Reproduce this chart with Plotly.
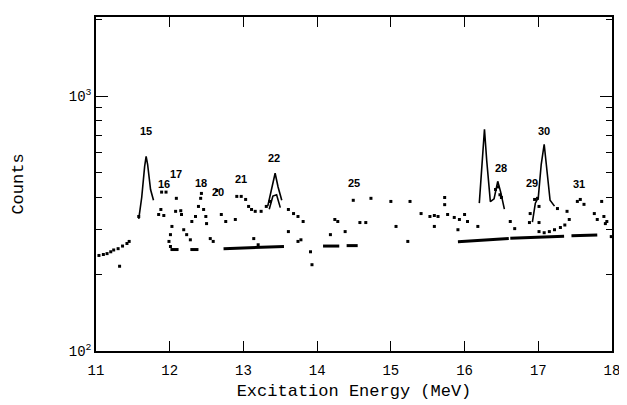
import plotly.graph_objects as go

# Fitted peak shapes (solid lines), segments split by None
fit_energy = [11.58, 11.62, 11.66, 11.68, 11.70, 11.74, 11.78, None,
              13.33, 13.38, 13.43, 13.47, 13.52, None,
              13.35, 13.40, 13.45, 13.50, None,
              16.20, 16.24, 16.27, 16.30, 16.35, 16.40, 16.45, 16.49, 16.54, None,
              16.92, 16.96, 17.00, 17.04, 17.08, 17.12, 17.16, 17.22]
fit_counts = [330, 400, 530, 580, 540, 430, 390, None,
              370, 430, 498, 440, 390, None,
              360, 405, 410, 365, None,
              380, 560, 741, 560, 385, 395, 463, 420, 360, None,
              320, 380, 400, 540, 647, 500, 390, 370]

# Background under the spectrum
bg_energy = [12.01, 12.12, None, 12.28, 12.39, None, 12.73, 13.55, None,
             14.08, 14.30, None, 14.40, 14.55, None,
             15.91, 16.60, None, 16.62, 17.35, None, 17.45, 17.80]
bg_counts = [250, 250, None, 250, 250, None, 252, 257, None,
             258, 258, None, 259, 259, None,
             268, 276, None, 277, 282, None, 283, 285]

# Measured points
pt_energy = [11.04, 11.10, 11.15, 11.20, 11.24, 11.30, 11.36, 11.42, 11.45, 11.32,
             11.58, 11.89, 11.95, 12.09, 11.85, 11.88, 11.92, 12.08, 12.15, 12.03,
             12.01, 11.99, 12.01, 12.16, 12.19, 12.23, 12.28, 12.30, 12.35, 12.39,
             12.42, 12.46, 12.49, 12.50, 12.55, 12.59, 12.64, 12.70, 12.76, 12.89,
             12.43, 12.91, 12.97, 13.03, 13.07, 13.11, 13.16, 13.24, 13.31, 13.36,
             13.61, 13.68, 13.74, 13.81, 13.61, 13.14, 13.20, 13.74, 13.78, 13.91,
             13.93, 14.24, 14.28, 14.18, 14.38, 14.73, 14.49, 14.58, 14.66, 15.00,
             15.26, 15.07, 15.23, 15.41, 15.53, 15.59, 15.64, 15.77, 15.86, 15.93,
             16.00, 16.04, 15.59, 15.91, 16.18, 15.73, 15.73, 16.42, 16.45, 16.48,
             16.50, 16.89, 16.95, 16.99, 17.01, 16.88, 17.01, 16.62, 16.68, 17.26,
             17.39, 17.01, 17.08, 17.15, 17.22, 17.30, 17.36, 17.42, 17.53, 17.57,
             17.62, 17.86, 17.76, 17.80, 17.89, 17.91, 17.93, 17.99]
pt_counts = [237, 239, 241, 245, 249, 252, 258, 264, 269, 215,
             337, 420, 420, 397, 343, 359, 340, 353, 355, 308,
             286, 269, 257, 343, 299, 286, 273, 322, 337, 369,
             397, 359, 337, 316, 276, 269, 426, 343, 322, 328,
             415, 404, 404, 393, 369, 359, 353, 353, 369, 386,
             359, 346, 337, 322, 294, 276, 261, 269, 273, 245,
             218, 328, 322, 286, 294, 397, 390, 319, 319, 386,
             386, 308, 269, 346, 337, 340, 337, 343, 334, 328,
             343, 322, 308, 299, 308, 400, 375, 430, 440, 410,
             400, 346, 393, 397, 369, 319, 319, 322, 302, 362,
             353, 294, 291, 294, 299, 305, 312, 328, 386, 393,
             376, 386, 346, 328, 337, 316, 322, 281]

# Peak labels
peak_names = ["15", "16", "17", "18", "20", "21", "22", "25", "28", "29", "30", "31"]
peak_x = [11.68, 11.92, 12.09, 12.42, 12.66, 12.97, 13.42, 14.50, 16.49, 16.92, 17.08, 17.55]
peak_logy = [2.862, 2.654, 2.693, 2.657, 2.622, 2.673, 2.756, 2.657, 2.717, 2.657, 2.862, 2.654]

fig = go.Figure()
fig.add_trace(go.Scatter(x=bg_energy, y=bg_counts, mode="lines",
                         line=dict(color="black", width=3), connectgaps=False))
fig.add_trace(go.Scatter(x=fit_energy, y=fit_counts, mode="lines",
                         line=dict(color="black", width=1.6), connectgaps=False))
fig.add_trace(go.Scatter(x=pt_energy, y=pt_counts, mode="markers",
                         marker=dict(color="black", size=3, symbol="square")))

for name, px, py in zip(peak_names, peak_x, peak_logy):
    fig.add_annotation(x=px, y=py, text="<b>" + name + "</b>", showarrow=False,
                       font=dict(family="Liberation Sans", size=11, color="black"))

mono = "Liberation Mono"
# the page body adds 8px around the figure
fig.update_layout(
    width=619, height=397,
    margin=dict(l=88, r=8, t=7, b=54),
    paper_bgcolor="white", plot_bgcolor="white",
    showlegend=False,
    xaxis=dict(range=[11, 18], tickvals=[11, 12, 13, 14, 15, 16, 17, 18],
               ticks="inside", ticklen=10, tickwidth=1.3, tickcolor="black",
               ticklabelstandoff=5,
               showline=True, linecolor="black", linewidth=1.5, mirror="ticks",
               showgrid=False, zeroline=False,
               tickfont=dict(family=mono, size=14, color="black"),
               title=dict(text="Excitation Energy (MeV)", standoff=7,
                          font=dict(family=mono, size=17, color="black"))),
    yaxis=dict(type="log", range=[2, 3.31], tickvals=[100, 1000],
               ticktext=["10<sup>2</sup>", "10<sup>3</sup>"],
               ticks="inside", ticklen=12, tickwidth=1.3, tickcolor="black",
               minor=dict(tickvals=[200, 300, 400, 500, 600, 700, 800, 900, 2000],
                          ticks="inside", ticklen=6, tickcolor="black"),
               showline=True, linecolor="black", linewidth=1.5, mirror="ticks",
               showgrid=False, zeroline=False,
               tickfont=dict(family=mono, size=14, color="black"),
               title=dict(text="Counts", standoff=41,
                          font=dict(family=mono, size=17, color="black"))),
)

fig.write_html("out.html")
